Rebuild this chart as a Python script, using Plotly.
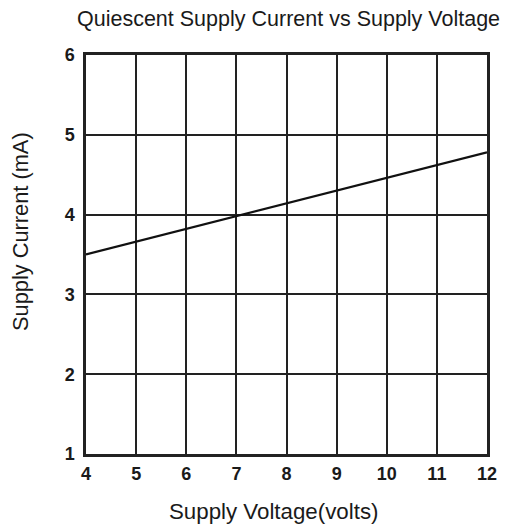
import plotly.graph_objects as go

voltage = [4, 12]
current = [3.5, 4.78]
x_ticks = [4, 5, 6, 7, 8, 9, 10, 11, 12]
y_ticks = [1, 2, 3, 4, 5, 6]

FONT = "Liberation Sans, Arial, sans-serif"
OFF = 8  # default body margin of the html page

fig = go.Figure()
fig.add_trace(go.Scatter(x=voltage, y=current, mode="lines",
                         line=dict(color="#111111", width=2.2), showlegend=False))

# target plot area in window pixels
pl, pr, pt, pb = 86, 487, 55, 454
W, H = 511 - OFF, 527 - OFF
fig.update_layout(
    width=W, height=H,
    margin=dict(l=pl - OFF, r=W - (pr - OFF), t=pt - OFF, b=H - (pb - OFF), pad=0),
    paper_bgcolor="white", plot_bgcolor="white",
    font=dict(family=FONT, color="#222222"),
)

def ann(text, px, py, size, angle=0):
    fig.add_annotation(text=text, x=(px - pl) / (pr - pl), y=(pb - py) / (pb - pt),
                       xref="paper", yref="paper", showarrow=False, textangle=angle,
                       xanchor="center", yanchor="middle",
                       font=dict(size=size, family=FONT, color="#1a1a1a"))

ann("Quiescent Supply Current vs Supply Voltage", 288, 19, 21.5)
ann("Supply Voltage(volts)", 273, 511, 22.3)
ann("Supply Current (mA)", 20, 232, 21.8, -90)

common = dict(showgrid=True, gridcolor="#222222", gridwidth=2,
              showline=True, linecolor="#222222", linewidth=2.5, mirror=True,
              zeroline=False, ticks="", ticklen=0,
              tickfont=dict(size=18, family=FONT, color="#1a1a1a", weight="bold"))
fig.update_xaxes(range=[4, 12], tickvals=x_ticks, ticktext=[str(v) for v in x_ticks],
                 ticklabelstandoff=2, **common)
fig.update_yaxes(range=[1, 6], tickvals=y_ticks, ticktext=[str(v) for v in y_ticks],
                 ticklabelstandoff=5, **common)

fig.write_html("out.html")
